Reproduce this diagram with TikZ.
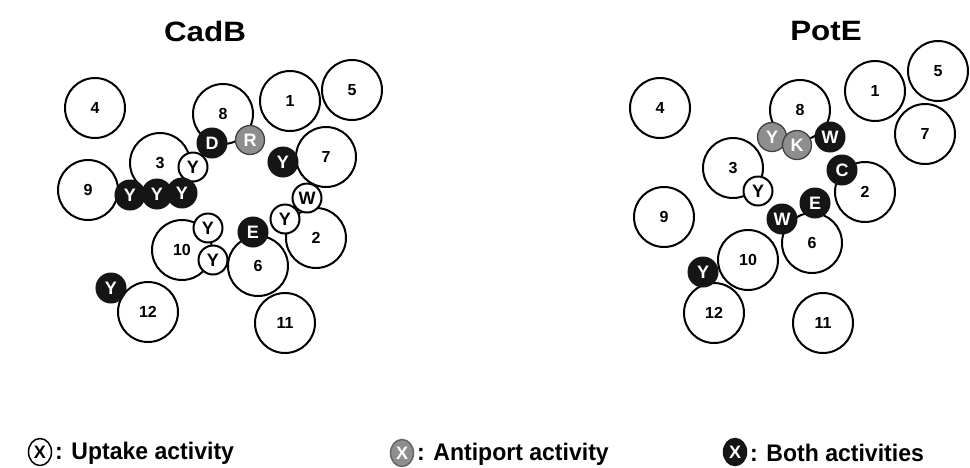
\documentclass[tikz,border=0pt]{standalone}
\usepackage{fontspec}
\usetikzlibrary{shapes.geometric}
\setmainfont{Liberation Sans}
\definecolor{antigray}{HTML}{8E8E8E}
\definecolor{bothblack}{HTML}{151515}
\begin{document}
\begin{tikzpicture}[x=1pt,y=-1pt,
  big/.style={circle, draw=black, line width=2pt, minimum size=60pt, inner sep=0pt, fill=white,
    font=\bfseries\fontsize{16}{16}\selectfont},
  small/.style={circle, line width=2pt, minimum size=29pt, inner sep=0pt,
    font=\bfseries\fontsize{18}{18}\selectfont},
  upt/.style={small, draw=black, fill=white, text=black},
  anti/.style={small, draw=black!75, line width=1.3pt, fill=antigray, text=white},
  both/.style={small, draw=bothblack, fill=bothblack, text=white},
  ttl/.style={font=\bfseries\fontsize{28}{28}\selectfont, xscale=1.12},
  legc/.style={ellipse, line width=1.5pt, minimum width=23pt, minimum height=27pt, inner sep=0pt,
    font=\bfseries\fontsize{18}{18}\selectfont},
  legt/.style={anchor=west, inner sep=0pt, font=\bfseries\fontsize{24}{24}\selectfont, xscale=0.96}
]
\useasboundingbox (0,0) rectangle (970,467);
% titles
\node[ttl] (tCadB) at (205,31) {CadB};
\node[ttl] (tPotE) at (826,31) {PotE};
% ---------- CadB ----------
\node[big] (c4) at (95,108) {4};
\node[big] (c8) at (223,114) {8};
\node[big] (c1) at (290,101) {1};
\node[big] (c5) at (352,90) {5};
\node[big] (c7) at (326,157) {7};
\node[big] (c3) at (160,163) {3};
\node[big] (c9) at (88,190) {9};
\node[big] (c10) at (182,250) {10};
\node[big] (c2) at (316,238) {2};
\node[big] (c6) at (258,266) {6};
\node[big] (c11) at (285,323) {11};
\node[big] (c12) at (148,312) {12};
\node[both] (cD) at (212,143) {D};
\node[anti] (cR) at (250,140) {R};
\node[both] (cY7) at (283,162) {Y};
\node[upt] (cY3) at (193,167) {Y};
\node[both] (cYa) at (130,195) {Y};
\node[both] (cYb) at (157,194) {Y};
\node[both] (cYc) at (182,193) {Y};
\node[upt] (cW) at (307,198) {W};
\node[upt] (cY2) at (285,219) {Y};
\node[both] (cE) at (253,232) {E};
\node[upt] (cY10a) at (208,228) {Y};
\node[upt] (cY10b) at (213,260) {Y};
\node[both] (cY12) at (111,288) {Y};
% ---------- PotE ----------
\node[big] (p4) at (660,108) {4};
\node[big] (p8) at (800,110) {8};
\node[big] (p1) at (875,91) {1};
\node[big] (p5) at (938,71) {5};
\node[big] (p7) at (925,134) {7};
\node[big] (p3) at (733,168) {3};
\node[big] (p2) at (865,192) {2};
\node[big] (p9) at (664,217) {9};
\node[big] (p6) at (812,243) {6};
\node[big] (p10) at (748,260) {10};
\node[big] (p12) at (714,313) {12};
\node[big] (p11) at (823,323) {11};
\node[anti] (pY8) at (772,137) {Y};
\node[anti] (pK) at (797,145) {K};
\node[both] (pW8) at (830,137) {W};
\node[both] (pC) at (842,170) {C};
\node[upt] (pY3) at (758,191) {Y};
\node[both] (pE) at (815,203) {E};
\node[both] (pW6) at (782,219) {W};
\node[both] (pY12) at (703,272) {Y};
% ---------- legend ----------
\node[legc, draw=black, fill=white, text=black] (l1) at (40,452) {X};
\node[legt] (t1) at (55,453) {: Uptake activity};
\node[legc, draw=black!60, fill=antigray, text=white] (l2) at (402,453) {X};
\node[legt] (t2) at (417,454) {: Antiport activity};
\node[legc, draw=bothblack, fill=bothblack, text=white] (l3) at (735,452) {X};
\node[legt] (t3) at (750,453) {: Both activities};
\end{tikzpicture}
\end{document}
